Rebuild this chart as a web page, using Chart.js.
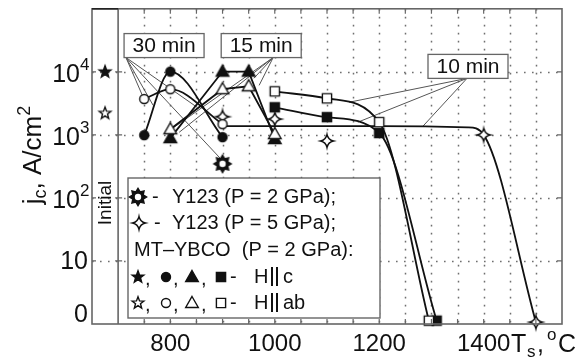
<!DOCTYPE html>
<html>
<head>
<meta charset="utf-8">
<script src="https://cdn.jsdelivr.net/npm/chart.js@4.4.1/dist/chart.umd.min.js"></script>
<style>
  html, body { margin: 0; padding: 0; background: #fff; }
</style>
</head>
<body>
<canvas id="chart" width="580" height="362"></canvas>
<script>
// values: Ts in °C, jc in A/cm^2 (bottom "0" = 10^0)
const initX = [675];
const starFilled = [10000];
const starOpen = [2200];

const circleX = [750, 800, 900];
const circleFilled = [990, 10100, 920];
const circleOpen = [3700, 5300, 1480];

const triX = [800, 900, 950, 1000];
const triFilled = [890, 10100, 10100, 860];
const triOpen = [1230, 5300, 5900, 1030];

const sqOpenX = [1000, 1100, 1200, 1295];
const sqOpen = [4900, 3800, 1590, 1.13];
const sqFilledX = [1000, 1100, 1200, 1310];
const sqFilled = [2740, 1910, 1070, 1.13];

const sunX = [900];
const sunY = [347];

const diaX = [900, 1000, 1100, 1400, 1500];
const diaY = [1940, 1780, 800, 1000, 1.07];

// fitted curve through the 10 min Y123 data
const fitX = [900, 1200, 1370, 1400, 1500];
const fitY = [1380, 1380, 1320, 1000, 1.07];

const xTicks = [800, 1000, 1200, 1400];
const yTicks = [1, 10, 100, 1000, 10000];
const yTickExp = ['', '', '2', '3', '4'];

const noteText = ['30 min', '15 min', '10 min'];
const noteX = [788, 974, 1370];
const noteY = [26100, 26100, 12200];

// pointer lines: from x, from y, to x, to y
const pointers = [
  [715, 16900, 748, 3950],
  [715, 16900, 767, 2950],
  [715, 16900, 851, 2750],
  [715, 16900, 895, 430],
  [997, 16900, 807, 1320],
  [997, 16900, 817, 1100],
  [997, 16900, 960, 7900],
  [997, 16900, 970, 6100],
  [1368, 7870, 1142, 3290],
  [1368, 7870, 1159, 1590],
  [1368, 7870, 1284, 1380]
];

const FONT = '"Liberation Sans", Arial, Helvetica, sans-serif';
const INK = '#111';
const FRAME = '#666';
const GRID = '#6f6f6f';

function drawMarker(g, kind, x, y) {
  const shape = kind.slice(0, -1);
  g.save();
  g.lineWidth = 1.4;
  g.strokeStyle = INK;
  g.fillStyle = kind.endsWith('F') ? INK : '#fff';
  g.beginPath();
  if (shape === 'circle') {
    g.arc(x, y, 4.5, 0, Math.PI * 2);
  } else if (shape === 'tri') {
    g.moveTo(x, y - 6.5);
    g.lineTo(x + 6.3, y + 4.5);
    g.lineTo(x - 6.3, y + 4.5);
    g.closePath();
  } else if (shape === 'sq') {
    g.rect(x - 4.6, y - 4.6, 9.2, 9.2);
  } else if (shape === 'star') {
    for (let i = 0; i < 10; i++) {
      const r = i % 2 ? 2.6 : 6.2;
      const a = -Math.PI / 2 + i * Math.PI / 5;
      g.lineTo(x + r * Math.cos(a), y + r * Math.sin(a));
    }
    g.closePath();
  } else if (shape === 'dia') {
    for (let i = 0; i < 4; i++) {
      const a = -Math.PI / 2 + i * Math.PI / 2;
      const b = a + Math.PI / 4;
      const a2 = a + Math.PI / 2;
      if (i === 0) g.moveTo(x + 6.5 * Math.cos(a), y + 6.5 * Math.sin(a));
      g.quadraticCurveTo(x + 1.6 * Math.cos(b), y + 1.6 * Math.sin(b),
                         x + 6.5 * Math.cos(a2), y + 6.5 * Math.sin(a2));
    }
    g.closePath();
  } else if (shape === 'sun') {
    for (let i = 0; i < 16; i++) {
      const r = i % 2 ? 5.6 : 8.6;
      const a = -Math.PI / 2 + i * Math.PI / 8;
      g.lineTo(x + r * Math.cos(a), y + r * Math.sin(a));
    }
    g.closePath();
  }
  g.fill();
  g.stroke();
  if (shape === 'sun') {
    g.beginPath();
    g.fillStyle = '#fff';
    g.arc(x, y, 3.2, 0, Math.PI * 2);
    g.fill();
  }
  g.restore();
}

function markerImage(kind) {
  const c = document.createElement('canvas');
  c.width = 22; c.height = 22;
  drawMarker(c.getContext('2d'), kind, 11, 11);
  return c;
}

const pts = (xs, ys) => xs.map((x, i) => ({ x: x, y: ys[i] }));

function series(xs, ys, kind, curve) {
  return {
    data: pts(xs, ys),
    showLine: true,
    borderColor: INK,
    borderWidth: 1.8,
    cubicInterpolationMode: curve ? 'monotone' : 'default',
    tension: 0,
    pointStyle: markerImage(kind),
    pointRadius: 7,
    clip: false,
    order: 0
  };
}

function marks(xs, ys, kind) {
  return {
    data: pts(xs, ys),
    showLine: false,
    pointStyle: markerImage(kind),
    pointRadius: 7,
    clip: false,
    order: 0
  };
}

const datasets = [
  series(sqOpenX, sqOpen, 'sqO', true),
  series(sqFilledX, sqFilled, 'sqF', true),
  series(triX, triOpen, 'triO', false),
  series(triX, triFilled, 'triF', false),
  series(circleX, circleOpen, 'circleO', true),
  series(circleX, circleFilled, 'circleF', true),
  marks(diaX, diaY, 'diaO'),
  marks(sunX, sunY, 'sunF'),
  marks(initX, starFilled, 'starF'),
  marks(initX, starOpen, 'starO'),
  {
    data: pts(fitX, fitY),
    showLine: true,
    borderColor: INK,
    borderWidth: 1.8,
    cubicInterpolationMode: 'monotone',
    pointRadius: 0,
    order: 5
  }
].concat(pointers.map(p => ({
  data: [{ x: p[0], y: p[1] }, { x: p[2], y: p[3] }],
  showLine: true,
  borderColor: '#555',
  borderWidth: 1,
  pointRadius: 0,
  tension: 0,
  order: 10
})));

const decor = {
  id: 'decor',
  beforeDatasetsDraw(chart) {
    // dotted grid, drawn from the scales' own tick positions
    const g = chart.ctx;
    const a = chart.chartArea;
    const xs = chart.scales.x, ys = chart.scales.y;
    g.save();
    g.strokeStyle = GRID;
    g.lineWidth = 1.5;
    g.setLineDash([1.6, 6.4]);
    g.beginPath();
    xs.ticks.forEach(t => {
      if (t.value <= 700 || t.value >= 1550) return;
      const px = Math.round(xs.getPixelForValue(t.value)) + 0.5;
      g.moveTo(px, a.top); g.lineTo(px, a.bottom);
    });
    ys.ticks.forEach(t => {
      if (t.value <= 1 || t.value >= 100000) return;
      const py = Math.round(ys.getPixelForValue(t.value)) + 0.5;
      g.moveTo(a.left, py); g.lineTo(a.right, py);
    });
    g.stroke();
    g.restore();
  },
  afterDraw(chart) {
    const g = chart.ctx;
    const a = chart.chartArea;
    const xs = chart.scales.x, ys = chart.scales.y;
    const sep = xs.getPixelForValue(700);

    g.save();
    // frame, the "Initial" strip and the inward ticks
    g.strokeStyle = FRAME;
    g.lineWidth = 1.6;
    g.strokeRect(a.left, a.top, a.right - a.left, a.bottom - a.top);
    g.beginPath();
    g.moveTo(sep, a.top); g.lineTo(sep, a.bottom);
    g.stroke();
    g.strokeStyle = '#222';
    g.beginPath();
    g.moveTo(a.left, a.top); g.lineTo(sep, a.top);
    g.stroke();
    g.strokeStyle = FRAME;
    g.lineWidth = 1.2;
    g.beginPath();
    for (let v = 750; v <= 1500; v += 50) {
      const px = xs.getPixelForValue(v);
      g.moveTo(px, a.top); g.lineTo(px, a.top + 5);
      g.moveTo(px, a.bottom); g.lineTo(px, a.bottom - 5);
    }
    yTicks.slice(1).forEach(v => {
      const py = ys.getPixelForValue(v);
      g.moveTo(a.right, py); g.lineTo(a.right - 5, py);
      g.moveTo(a.left, py); g.lineTo(a.left + 4, py);
      g.moveTo(sep - 3, py); g.lineTo(sep + 4, py);
    });
    g.stroke();

    // y tick labels with exponents
    g.fillStyle = INK;
    g.textBaseline = 'middle';
    yTicks.forEach((v, i) => {
      const py = ys.getPixelForValue(v);
      g.textAlign = 'right';
      g.font = '25px ' + FONT;
      if (v === 1) {
        g.fillText('0', 88, a.bottom - 9);
      } else if (!yTickExp[i]) {
        g.fillText('10', 88, py + 1);
      } else {
        g.fillText('10', 80, py + 3);
        g.textAlign = 'left';
        g.font = '17px ' + FONT;
        g.fillText(yTickExp[i], 80, py - 7);
      }
    });

    // y title: jc, A/cm2
    g.save();
    g.translate(41, 0);
    g.rotate(-Math.PI / 2);
    g.textAlign = 'left';
    g.textBaseline = 'alphabetic';
    const parts = [['j', 26, 0], ['c', 18, 5], [', A/cm', 26, 0], ['2', 18, -11]];
    let len = 0;
    parts.forEach(p => { g.font = p[1] + 'px ' + FONT; len += g.measureText(p[0]).width; });
    let pos = -155 - len / 2;
    parts.forEach(p => {
      g.font = p[1] + 'px ' + FONT;
      g.fillText(p[0], pos, p[2]);
      pos += g.measureText(p[0]).width;
    });
    g.restore();

    // x title: Ts, °C
    g.textAlign = 'left';
    g.textBaseline = 'alphabetic';
    g.font = '25px ' + FONT; g.fillText('T', 511, 352);
    g.font = '17px ' + FONT; g.fillText('s', 527, 357);
    g.font = '25px ' + FONT; g.fillText(',', 537, 352);
    g.font = '17px ' + FONT; g.fillText('o', 547, 340);
    g.font = '25px ' + FONT; g.fillText('C', 558, 352);

    // "Initial" strip label
    g.save();
    g.translate((a.left + sep) / 2 + 1, 203);
    g.rotate(-Math.PI / 2);
    g.textAlign = 'center';
    g.textBaseline = 'middle';
    g.font = '19px ' + FONT;
    g.fillText('Initial', 0, 0);
    g.restore();

    // annealing time boxes
    g.font = '21px ' + FONT;
    g.textAlign = 'center';
    g.textBaseline = 'middle';
    noteText.forEach((t, i) => {
      const cx = xs.getPixelForValue(noteX[i]);
      const cy = ys.getPixelForValue(noteY[i]);
      g.fillStyle = '#fff';
      g.fillRect(cx - 40, cy - 12, 80, 24);
      g.strokeStyle = FRAME;
      g.lineWidth = 1.3;
      g.strokeRect(cx - 40, cy - 12, 80, 24);
      g.fillStyle = INK;
      g.fillText(t, cx, cy + 1);
    });

    // legend
    g.fillStyle = '#fff';
    g.fillRect(128, 178, 252, 140);
    g.strokeStyle = FRAME;
    g.lineWidth = 1.4;
    g.strokeRect(128, 178, 252, 140);
    g.fillStyle = INK;
    g.textAlign = 'left';
    g.textBaseline = 'middle';
    g.font = '20px ' + FONT;
    drawMarker(g, 'sunF', 138, 197);
    g.fillText('-', 152, 197);
    g.fillText('Y123 (P = 2 GPa);', 172, 197);
    drawMarker(g, 'diaO', 139, 223);
    g.fillText('-', 154, 223);
    g.fillText('Y123 (P = 5 GPa);', 172, 223);
    g.fillText('MT\u2013YBCO  (P = 2 GPa):', 134, 250);
    [['starF', 'circleF', 'triF', 'sqF', 'c', 277], ['starO', 'circleO', 'triO', 'sqO', 'ab', 303]].forEach(r => {
      const y = r[5];
      drawMarker(g, r[0], 138, y);
      drawMarker(g, r[1], 166, y);
      drawMarker(g, r[2], 192, y);
      drawMarker(g, r[3], 221, y);
      g.fillStyle = INK;
      g.fillText(',', 145, y + 2);
      g.fillText(',', 173, y + 2);
      g.fillText(',', 201, y + 2);
      g.fillText('-', 230, y);
      g.fillText('H', 254, y);
      g.fillRect(271, y - 10, 2, 19);
      g.fillRect(276, y - 10, 2, 19);
      g.fillText(r[4], 283, y);
    });
    g.restore();
  }
};

new Chart(document.getElementById('chart'), {
  type: 'scatter',
  data: { datasets: datasets },
  options: {
    responsive: false,
    animation: false,
    devicePixelRatio: 1,
    layout: { padding: { left: 0, right: 18, top: 7, bottom: 0 } },
    plugins: { legend: { display: false }, tooltip: { enabled: false } },
    scales: {
      x: {
        type: 'linear',
        min: 650,
        max: 1550,
        afterBuildTicks: s => {
          s.ticks = [];
          for (let v = 650; v <= 1550; v += 50) s.ticks.push({ value: v });
        },
        ticks: {
          autoSkip: false,
          maxRotation: 0,
          padding: 6,
          color: INK,
          font: { family: FONT, size: 24 },
          callback: v => xTicks.includes(v) ? String(v) : ''
        },
        grid: { display: false, drawTicks: false },
        border: { display: false },
        afterFit: s => { s.height = 38; }
      },
      y: {
        type: 'logarithmic',
        min: 1,
        max: 100000,
        afterBuildTicks: s => {
          s.ticks = yTicks.concat([100000]).map(v => ({ value: v }));
        },
        ticks: { display: false },
        grid: { display: false, drawTicks: false },
        border: { display: false },
        afterFit: s => { s.width = 92; }
      }
    }
  },
  plugins: [decor]
});
</script>
</body>
</html>
